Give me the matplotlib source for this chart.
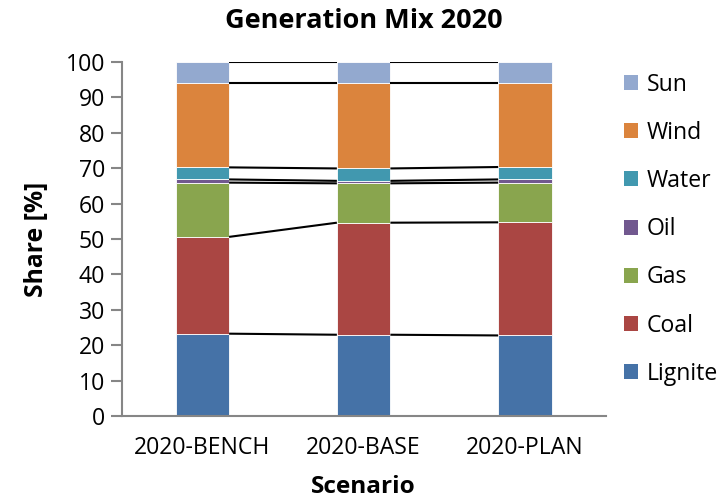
import numpy as np
import matplotlib
matplotlib.use("Agg")
import matplotlib.pyplot as plt
from matplotlib.patches import Patch

plt.rcParams['font.family'] = ['Open Sans', 'DejaVu Sans']

scenarios = ["2020-BENCH", "2020-BASE", "2020-PLAN"]
sources = ["Lignite", "Coal", "Gas", "Oil", "Water", "Wind", "Sun"]
lignite = [23.3, 23.0, 22.8]
coal = [27.3, 31.6, 31.9]
gas = [15.3, 11.1, 11.2]
oil = [0.9, 0.7, 0.9]
water = [3.4, 3.5, 3.5]
wind = [23.7, 24.0, 23.6]
sun = [6.1, 6.1, 6.1]
colors = ["#4572A7", "#AA4643", "#89A54E", "#71588F", "#4198AF", "#DB843D", "#93A9CF"]

series = [lignite, coal, gas, oil, water, wind, sun]

fig = plt.figure(figsize=(7.27, 5.03), dpi=100)
ax = fig.add_axes([0.1674, 0.1724, 0.833 - 0.1674, 0.8773 - 0.1724])

x = np.arange(len(scenarios))
width = 0.332
bottom = np.zeros(len(scenarios))
for name, vals, col in zip(sources, series, colors):
    vals = np.array(vals)
    ax.bar(x, vals, width, bottom=bottom, color=col, edgecolor="white",
           linewidth=0.6, label=name, zorder=2)
    top = bottom + vals
    # series lines joining segment tops of neighbouring bars
    for i in range(len(scenarios) - 1):
        ax.plot([x[i] + width / 2, x[i + 1] - width / 2], [top[i], top[i + 1]],
                color="black", linewidth=1.5, zorder=3, solid_capstyle="butt")
    bottom = top

ax.set_xlim(-0.5, 2.5)
ax.set_ylim(0, 100)
ax.set_yticks(range(0, 101, 10))
ax.set_xticks(x)
ax.set_xticklabels(scenarios)
ax.tick_params(axis="y", length=8, width=1.5, color="#868686", labelsize=16.6, pad=4)
ax.tick_params(axis="x", length=0, labelsize=16.6, pad=14)
for side in ["top", "right"]:
    ax.spines[side].set_visible(False)
for side in ["left", "bottom"]:
    ax.spines[side].set_color("#868686")
    ax.spines[side].set_linewidth(1.5)

ax.set_title("Generation Mix 2020", fontsize=19.5, fontweight="bold", pad=24)
ax.set_ylabel("Share [%]", fontsize=17.8, fontweight="bold", labelpad=12)
ax.set_xlabel("Scenario", fontsize=17.6, fontweight="bold", labelpad=11)

handles = [Patch(facecolor=c, label=n) for n, c in zip(sources, colors)][::-1]
fig.legend(handles=handles, loc="upper left", bbox_to_anchor=(0.845, 0.874),
           frameon=False, fontsize=16.6, handlelength=0.63, handleheight=0.63,
           handletextpad=0.36, labelspacing=1.05, borderaxespad=0)

fig.savefig("out.png", dpi=100)
